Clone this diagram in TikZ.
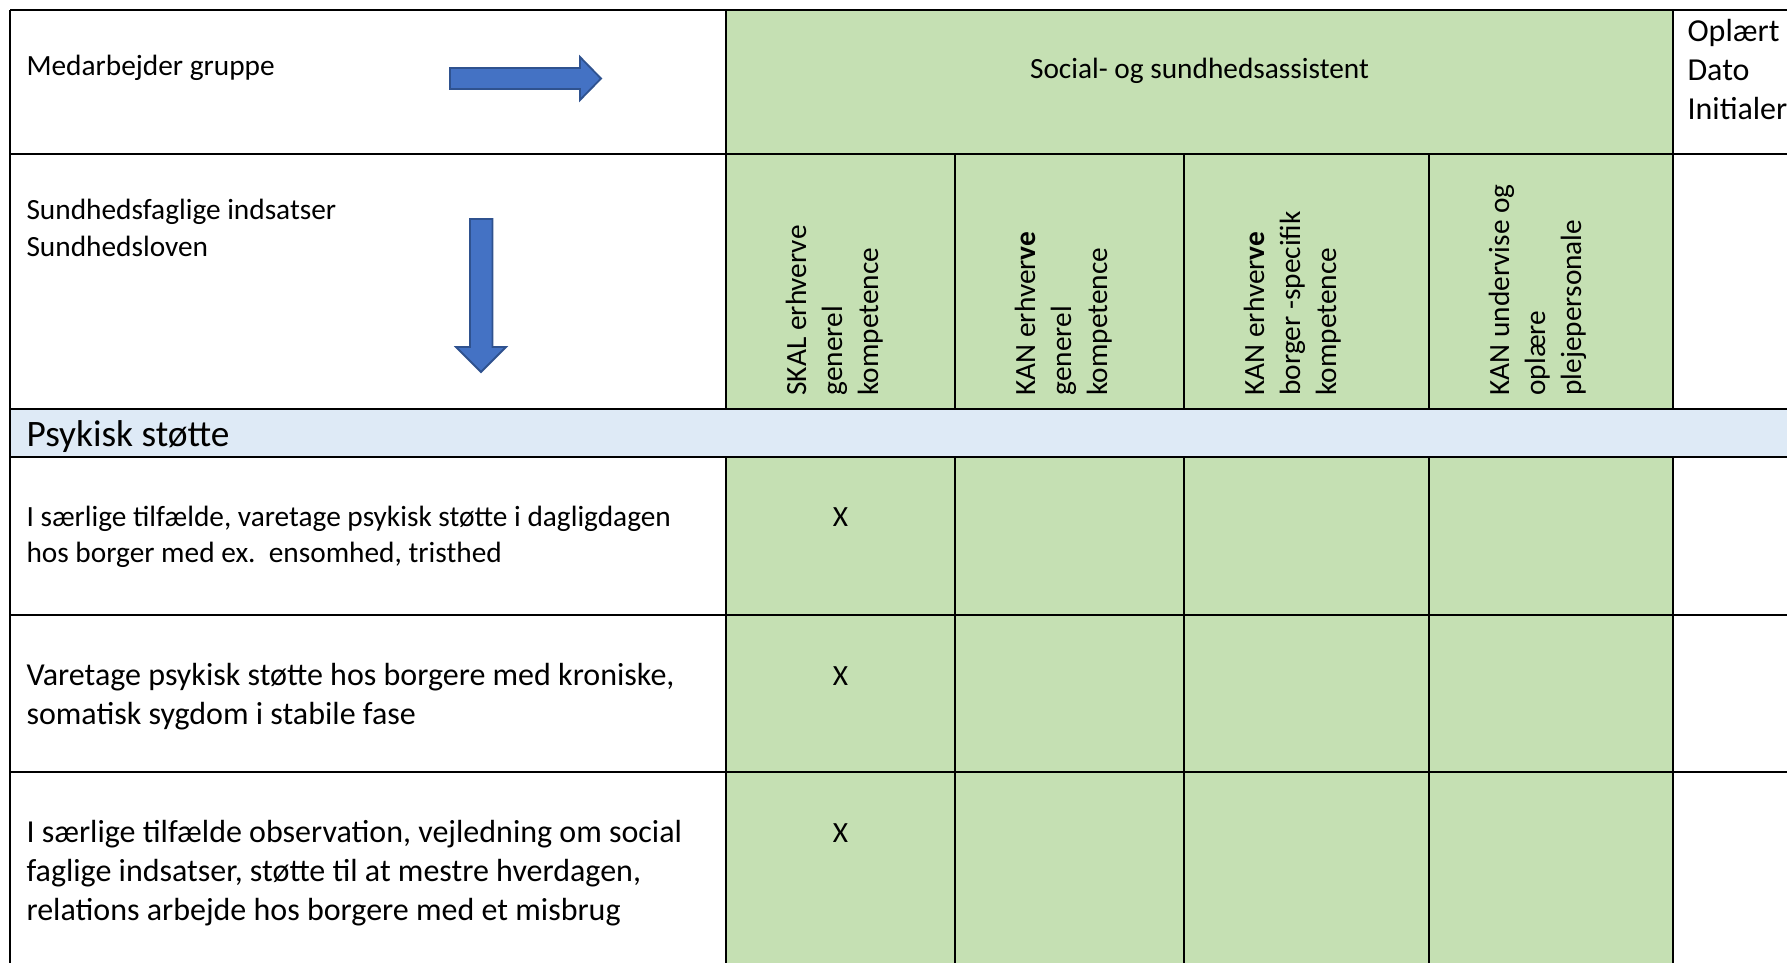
\documentclass[tikz,border=0pt]{standalone}
\usepackage{fontspec}
\setmainfont{Carlito}
\definecolor{cellgreen}{HTML}{C5E0B3}
\definecolor{sectionblue}{HTML}{DEEAF6}
\definecolor{arrowblue}{HTML}{4472C4}
\definecolor{arrowedge}{HTML}{2F528F}
\usetikzlibrary{arrows,shapes}
\tikzstyle{txt}=[anchor=base west,inner sep=0pt,font=\fontsize{11}{13.4}\selectfont]
\tikzstyle{bigtxt}=[txt,font=\fontsize{12}{14.6}\selectfont]
\tikzstyle{sectiontxt}=[txt,font=\fontsize{14}{17}\selectfont]
\tikzstyle{vtxt}=[txt,rotate=90]
\tikzstyle{xcell}=[anchor=base,inner sep=0pt,font=\fontsize{11}{13.4}\selectfont]
\tikzstyle{hline}=[draw,line width=1pt]
\tikzstyle{vline}=[draw,line width=0.75pt]
\tikzstyle{blockarrow}=[fill=arrowblue,draw=arrowedge,line width=0.7pt]

\begin{document}
\begin{tikzpicture}[x=0.375pt,y=0.375pt]

            \path[use as bounding box] (0,0) rectangle (1787,-963);

            % cell backgrounds
            \fill[cellgreen] (726,-10) rectangle (1673,-409);
            \fill[cellgreen] (726,-457) rectangle (1673,-963);
            \fill[sectionblue] (10,-409) rectangle (1787,-457);

            % grid
            \path[hline] (10,-10) -- (1787,-10);
            \path[hline] (10,-154) -- (1787,-154);
            \path[hline] (10,-409) -- (1787,-409);
            \path[hline] (10,-457) -- (1787,-457);
            \path[hline] (10,-615) -- (1787,-615);
            \path[hline] (10,-772) -- (1787,-772);
            \path[vline] (10,-10) -- (10,-963);
            \foreach \cx in {726,1673} {
                \path[vline] (\cx,-10) -- (\cx,-409);
                \path[vline] (\cx,-457) -- (\cx,-963);
            }
            \foreach \cx in {955,1184,1429} {
                \path[vline] (\cx,-154) -- (\cx,-409);
                \path[vline] (\cx,-457) -- (\cx,-963);
            }

            % block arrows
            \path[blockarrow] (450,-68) -- (580,-68) -- (580,-57) -- (601,-78.5)
                -- (580,-100) -- (580,-89) -- (450,-89) -- cycle;
            \path[blockarrow] (470,-219) -- (492.5,-219) -- (492.5,-347) -- (506,-347)
                -- (481,-372) -- (456,-347) -- (470,-347) -- cycle;

            % header texts
            \node[txt] (medarb) at (26,-75) {Medarbejder gruppe};
            \node[txt] (sundfag) at (26,-219) {Sundhedsfaglige indsatser};
            \node[txt] (sundlov) at (26,-256) {Sundhedsloven};
            \node[xcell] (ssa) at (1199.5,-78) {Social- og sundhedsassistent};
            \node[bigtxt] (oplaert) at (1687,-41) {Oplært};
            \node[bigtxt] (dato) at (1687,-80) {Dato};
            \node[bigtxt] (initialer) at (1687,-119) {Initialer};

            \node[vtxt] (c1a) at (806,-396) {SKAL erhverve};
            \node[vtxt] (c1b) at (842,-396) {generel};
            \node[vtxt] (c1c) at (878,-396) {kompetence};
            \node[vtxt] (c2a) at (1035,-396) {KAN erhver\textbf{ve}};
            \node[vtxt] (c2b) at (1071,-396) {generel};
            \node[vtxt] (c2c) at (1107,-396) {kompetence};
            \node[vtxt] (c3a) at (1264,-396) {KAN erhver\textbf{ve}};
            \node[vtxt] (c3b) at (1300,-396) {borger -specifik};
            \node[vtxt] (c3c) at (1336,-396) {kompetence};
            \node[vtxt] (c4a) at (1509,-396) {KAN undervise og};
            \node[vtxt] (c4b) at (1545,-396) {oplære};
            \node[vtxt] (c4c) at (1581,-396) {plejepersonale};

            % section
            \node[sectiontxt] (psyk) at (26,-446) {Psykisk støtte};

            % rows
            \node[txt] (r1a) at (26,-526) {I særlige tilfælde, varetage psykisk støtte i dagligdagen};
            \node[txt] (r1b) at (26,-562) {hos borger med ex.\ \ ensomhed, tristhed};
            \node[xcell] (x1) at (840.5,-526) {X};

            \node[bigtxt] (r2a) at (26,-685) {Varetage psykisk støtte hos borgere med kroniske,};
            \node[bigtxt] (r2b) at (26,-724) {somatisk sygdom i stabile fase};
            \node[xcell] (x2) at (840.5,-685) {X};

            \node[bigtxt] (r3a) at (26,-842) {I særlige tilfælde observation, vejledning om social};
            \node[bigtxt] (r3b) at (26,-881) {faglige indsatser, støtte til at mestre hverdagen,};
            \node[bigtxt] (r3c) at (26,-920) {relations arbejde hos borgere med et misbrug};
            \node[xcell] (x3) at (840.5,-842) {X};

        \end{tikzpicture}
\end{document}
